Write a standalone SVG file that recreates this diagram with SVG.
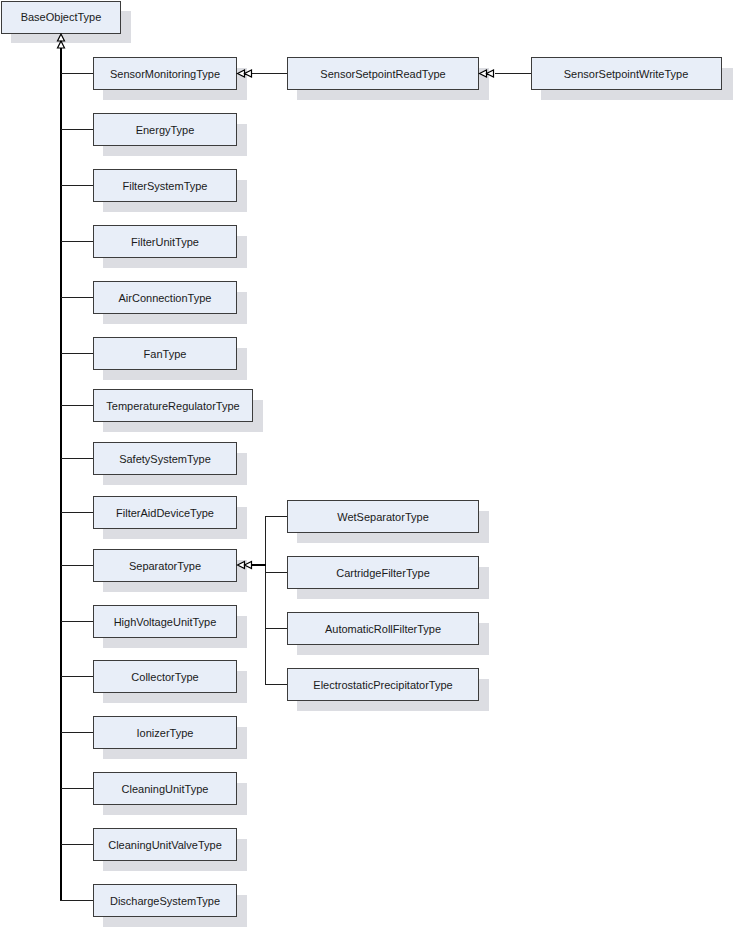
<svg xmlns="http://www.w3.org/2000/svg" width="734" height="928" viewBox="0 0 734 928">
<defs>
<style>
.sh{fill:#dcdde2;stroke:none}
.bx{fill:#e8eef8;stroke:#3c3c3c;stroke-width:1}
.t{font-family:"Liberation Sans",Arial,sans-serif;font-size:11px;fill:#1a1a1a;text-anchor:middle}
.ln{stroke:#202020;stroke-width:1;fill:none}
.tk{stroke:#000;stroke-width:2;fill:none}
.ah{fill:#fff;stroke:#000;stroke-width:1.2}
</style>
</defs>
<rect width="734" height="928" fill="#fff"/>
<g id="BaseObjectType"><rect class="sh" x="11" y="11" width="120" height="32"/><rect class="bx" x="1.5" y="1.5" width="119" height="32"/><text class="t" x="61" y="21">BaseObjectType</text></g>
<g id="SensorMonitoringType"><rect class="sh" x="103" y="68" width="144" height="32"/><rect class="bx" x="93.5" y="57.5" width="143" height="32"/><text class="t" x="165" y="77.5">SensorMonitoringType</text></g>
<g id="SensorSetpointReadType"><rect class="sh" x="297" y="68" width="192" height="32"/><rect class="bx" x="287.5" y="57.5" width="191" height="32"/><text class="t" x="383" y="77.5">SensorSetpointReadType</text></g>
<g id="SensorSetpointWriteType"><rect class="sh" x="541" y="68" width="192" height="32"/><rect class="bx" x="531.5" y="57.5" width="190" height="32"/><text class="t" x="626" y="77.5">SensorSetpointWriteType</text></g>
<g id="EnergyType"><rect class="sh" x="103" y="124" width="144" height="32"/><rect class="bx" x="93.5" y="113.5" width="143" height="32"/><text class="t" x="165" y="133.5">EnergyType</text></g>
<g id="FilterSystemType"><rect class="sh" x="103" y="180" width="144" height="32"/><rect class="bx" x="93.5" y="169.5" width="143" height="32"/><text class="t" x="165" y="189.5">FilterSystemType</text></g>
<g id="FilterUnitType"><rect class="sh" x="103" y="236" width="144" height="32"/><rect class="bx" x="93.5" y="225.5" width="143" height="32"/><text class="t" x="165" y="245.5">FilterUnitType</text></g>
<g id="AirConnectionType"><rect class="sh" x="103" y="292" width="144" height="32"/><rect class="bx" x="93.5" y="281.5" width="143" height="32"/><text class="t" x="165" y="301.5">AirConnectionType</text></g>
<g id="FanType"><rect class="sh" x="103" y="348" width="144" height="32"/><rect class="bx" x="93.5" y="337.5" width="143" height="32"/><text class="t" x="165" y="357.5">FanType</text></g>
<g id="TemperatureRegulatorType"><rect class="sh" x="103" y="400" width="160" height="32"/><rect class="bx" x="93.5" y="389.5" width="159" height="32"/><text class="t" x="173" y="409.5">TemperatureRegulatorType</text></g>
<g id="SafetySystemType"><rect class="sh" x="103" y="453" width="144" height="32"/><rect class="bx" x="93.5" y="442.5" width="143" height="32"/><text class="t" x="165" y="462.5">SafetySystemType</text></g>
<g id="FilterAidDeviceType"><rect class="sh" x="103" y="507" width="144" height="32"/><rect class="bx" x="93.5" y="496.5" width="143" height="32"/><text class="t" x="165" y="516.5">FilterAidDeviceType</text></g>
<g id="SeparatorType"><rect class="sh" x="103" y="560" width="144" height="32"/><rect class="bx" x="93.5" y="549.5" width="143" height="32"/><text class="t" x="165" y="569.5">SeparatorType</text></g>
<g id="HighVoltageUnitType"><rect class="sh" x="103" y="616" width="144" height="32"/><rect class="bx" x="93.5" y="605.5" width="143" height="32"/><text class="t" x="165" y="625.5">HighVoltageUnitType</text></g>
<g id="CollectorType"><rect class="sh" x="103" y="671" width="144" height="32"/><rect class="bx" x="93.5" y="660.5" width="143" height="32"/><text class="t" x="165" y="680.5">CollectorType</text></g>
<g id="IonizerType"><rect class="sh" x="103" y="727" width="144" height="32"/><rect class="bx" x="93.5" y="716.5" width="143" height="32"/><text class="t" x="165" y="736.5">IonizerType</text></g>
<g id="CleaningUnitType"><rect class="sh" x="103" y="783" width="144" height="32"/><rect class="bx" x="93.5" y="772.5" width="143" height="32"/><text class="t" x="165" y="792.5">CleaningUnitType</text></g>
<g id="CleaningUnitValveType"><rect class="sh" x="103" y="839" width="144" height="32"/><rect class="bx" x="93.5" y="828.5" width="143" height="32"/><text class="t" x="165" y="848.5">CleaningUnitValveType</text></g>
<g id="DischargeSystemType"><rect class="sh" x="103" y="895" width="144" height="32"/><rect class="bx" x="93.5" y="884.5" width="143" height="32"/><text class="t" x="165" y="904.5">DischargeSystemType</text></g>
<g id="WetSeparatorType"><rect class="sh" x="297" y="511" width="192" height="32"/><rect class="bx" x="287.5" y="500.5" width="191" height="32"/><text class="t" x="383" y="520.5">WetSeparatorType</text></g>
<g id="CartridgeFilterType"><rect class="sh" x="297" y="567" width="192" height="32"/><rect class="bx" x="287.5" y="556.5" width="191" height="32"/><text class="t" x="383" y="576.5">CartridgeFilterType</text></g>
<g id="AutomaticRollFilterType"><rect class="sh" x="297" y="623" width="192" height="32"/><rect class="bx" x="287.5" y="612.5" width="191" height="32"/><text class="t" x="383" y="632.5">AutomaticRollFilterType</text></g>
<g id="ElectrostaticPrecipitatorType"><rect class="sh" x="297" y="679" width="192" height="32"/><rect class="bx" x="287.5" y="668.5" width="191" height="32"/><text class="t" x="383" y="688.5">ElectrostaticPrecipitatorType</text></g>
<g id="connectors">
<line class="tk" x1="61" y1="47" x2="61" y2="900"/>
<path class="ln" d="M61 73.5H93M61 129.5H93M61 185.5H93M61 241.5H93M61 297.5H93M61 353.5H93M61 405.5H93M61 458.5H93M61 512.5H93M61 565.5H93M61 621.5H93M61 676.5H93M61 732.5H93M61 788.5H93M61 844.5H93M60 900.5H93"/>
<path class="ah" d="M61 34L57.5 41H64.5ZM61 41L57.5 48H64.5Z"/>
<path class="ln" d="M251 73.5H287M495 73.5H531"/>
<path class="ah" d="M237.5 73.5L244.5 70V77ZM244.5 73.5L251.5 70V77ZM479.5 73.5L486.5 70V77ZM486.5 73.5L493.5 70V77Z"/>
<path class="ln" d="M265.5 516V684M265 516.5H287M265 572.5H287M265 628.5H287M265 684.5H287"/>
<line class="tk" x1="251" y1="565" x2="266" y2="565"/>
<path class="ah" d="M237.5 565L244.5 561.5V568.5ZM244.5 565L251.5 561.5V568.5Z"/>
</g>
</svg>
